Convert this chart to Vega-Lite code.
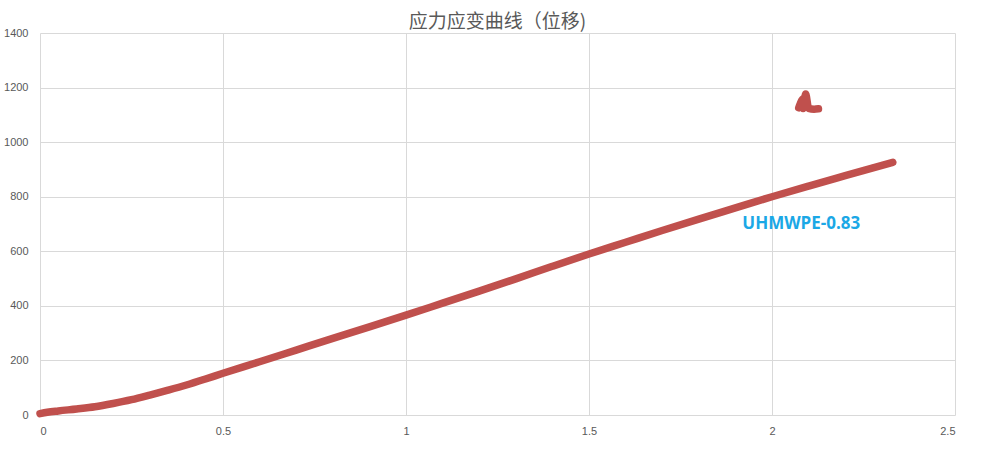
{
  "$schema": "https://vega.github.io/schema/vega-lite/v6.json",
  "width": 915,
  "height": 382,
  "autosize": "none",
  "padding": {"left": 40, "top": 33, "right": 34, "bottom": 49},
  "background": "white",
  "title": {
    "text": "应力应变曲线（位移)",
    "font": "Noto Sans CJK SC",
    "fontSize": 19,
    "fontWeight": "normal",
    "color": "#595959",
    "anchor": "middle",
    "offset": 0,
    "dy": 5
  },
  "config": {
    "view": {"stroke": null},
    "axis": {
      "domain": false,
      "ticks": false,
      "gridColor": "#d9d9d9",
      "gridWidth": 1,
      "labelFont": "Liberation Sans",
      "labelFontSize": 11,
      "labelColor": "#595959",
      "title": null
    }
  },
  "datasets": {
    "curve": [
      {"seg": "a", "x": 0, "y": 5},
      {"seg": "a", "x": 0.02, "y": 10},
      {"seg": "a", "x": 0.05, "y": 15},
      {"seg": "a", "x": 0.1, "y": 22},
      {"seg": "a", "x": 0.15, "y": 30},
      {"seg": "a", "x": 0.2, "y": 42},
      {"seg": "a", "x": 0.25, "y": 56},
      {"seg": "a", "x": 0.3, "y": 73},
      {"seg": "a", "x": 0.35, "y": 91},
      {"seg": "a", "x": 0.4, "y": 110},
      {"seg": "a", "x": 0.45, "y": 131},
      {"seg": "a", "x": 0.5, "y": 153},
      {"seg": "a", "x": 0.6, "y": 195},
      {"seg": "a", "x": 0.7, "y": 238},
      {"seg": "a", "x": 0.8, "y": 281},
      {"seg": "a", "x": 0.9, "y": 323},
      {"seg": "a", "x": 1.0, "y": 366},
      {"seg": "a", "x": 1.1, "y": 410},
      {"seg": "a", "x": 1.2, "y": 454},
      {"seg": "a", "x": 1.3, "y": 499},
      {"seg": "a", "x": 1.4, "y": 545},
      {"seg": "a", "x": 1.5, "y": 590},
      {"seg": "a", "x": 1.6, "y": 633},
      {"seg": "a", "x": 1.7, "y": 676},
      {"seg": "a", "x": 1.8, "y": 718},
      {"seg": "a", "x": 1.9, "y": 759},
      {"seg": "a", "x": 2.0, "y": 800},
      {"seg": "a", "x": 2.1, "y": 839},
      {"seg": "a", "x": 2.2, "y": 877},
      {"seg": "a", "x": 2.33, "y": 926},
      {"seg": "b", "x": 2.092, "y": 1176},
      {"seg": "b", "x": 2.084, "y": 1158},
      {"seg": "b", "x": 2.077, "y": 1140},
      {"seg": "b", "x": 2.073, "y": 1126},
      {"seg": "b", "x": 2.085, "y": 1123},
      {"seg": "b", "x": 2.1, "y": 1124},
      {"seg": "b", "x": 2.115, "y": 1121},
      {"seg": "b", "x": 2.127, "y": 1122}
    ],
    "label": [
      {"x": 2.08, "y": 700, "text": "UHMWPE-0.83"}
    ]
  },
  "layer": [
    {
      "data": {"name": "curve"},
      "mark": {
        "type": "line",
        "color": "#c0504d",
        "strokeWidth": 7.5,
        "strokeCap": "round",
        "strokeJoin": "round",
        "interpolate": "monotone"
      },
      "encoding": {
        "x": {
          "field": "x",
          "type": "quantitative",
          "scale": {"domain": [0, 2.5], "nice": false},
          "axis": {"values": [0, 0.5, 1, 1.5, 2, 2.5], "labelPadding": 10, "format": "~g"}
        },
        "y": {
          "field": "y",
          "type": "quantitative",
          "scale": {"domain": [0, 1400], "nice": false},
          "axis": {"values": [0, 200, 400, 600, 800, 1000, 1200, 1400], "labelPadding": 12, "format": "d"}
        },
        "detail": {"field": "seg", "type": "nominal"},
        "order": {"field": "x", "type": "quantitative"}
      }
    },
    {
      "data": {"name": "label"},
      "mark": {
        "type": "text",
        "font": "Open Sans",
        "fontWeight": "bold",
        "fontSize": 17,
        "color": "#1ba8e6",
        "align": "center",
        "baseline": "middle"
      },
      "encoding": {
        "x": {"field": "x", "type": "quantitative"},
        "y": {"field": "y", "type": "quantitative"},
        "text": {"field": "text"}
      }
    }
  ]
}
